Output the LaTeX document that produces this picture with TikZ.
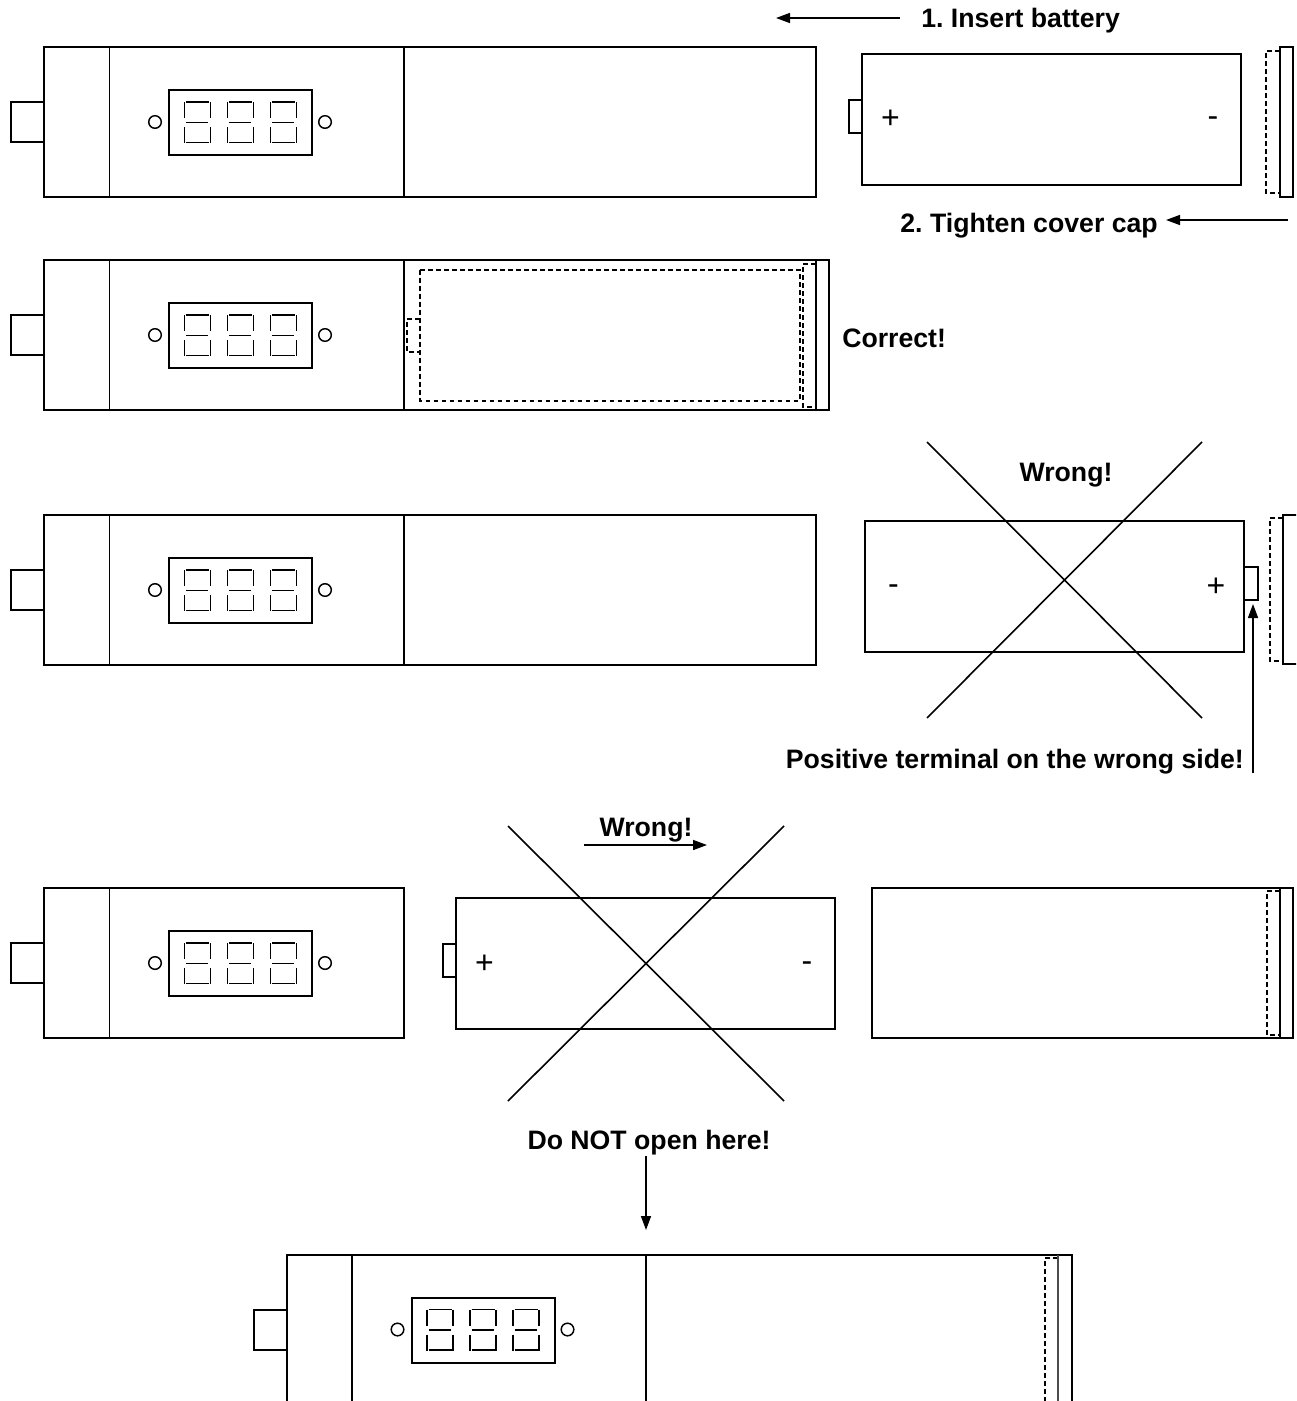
\documentclass[tikz,border=0pt]{standalone}
\usepackage{fontspec}
\setmainfont{Liberation Sans}
\usetikzlibrary{arrows.meta}
\frenchspacing

\tikzset{
  outline/.style={draw, line width=1.5pt},
  thinline/.style={draw, line width=1.1pt},
  hidden/.style={draw, line width=1.5pt, dash pattern=on 3.6pt off 2.4pt},
  pointer/.style={-{Stealth[length=10.5pt,width=7.5pt,inset=0pt]}, line width=1.1pt},
  caption/.style={font=\fontsize{20}{24}\selectfont\bfseries, inner sep=0pt},
  polarity/.style={font=\fontsize{24}{28}\selectfont, inner sep=0pt, anchor=base},
}

% plug, first divider, display and the two dots; origin is the top left of the body
\newcommand{\meterface}[2]{
  \begin{scope}[shift={(#1,#2)}]
    \draw[outline] (0,55) -- (-33,55) -- (-33,95) -- (0,95);
    \draw[line width=1.3pt] (65.5,0) -- (65.5,150);
    \draw[outline] (125,43) rectangle (268,108);
    \draw[line width=1.1pt] (111,75) circle (6.3);
    \draw[line width=1.1pt] (281,75) circle (6.3);
    \foreach \dx in {140,183,226} {
      \begin{scope}[shift={(\dx,55)}]
        \draw[thinline] (0.5,0) -- (0.5,16) (0.5,25) -- (0.5,41);
        \draw[thinline] (26.5,0) -- (26.5,16) (26.5,25) -- (26.5,41);
        \draw[thinline] (2,0) -- (25,0) (2,20.5) -- (24,20.5) (2,40.5) -- (25,40.5);
      \end{scope}
    }
  \end{scope}
}

% battery body with its tip; #3 is the side of the tip, #4 and #5 the signs
\newcommand{\battery}[5]{
  \begin{scope}[shift={(#1,#2)}]
    \draw[outline] (0,0) rectangle (379,131);
    \draw[outline] (#3,46) -- ++(\tipdir,0) -- ++(0,33) -- (#3,79);
    \node[polarity] at (28.5,75) {#4};
    \node[polarity] at (351,75) {#5};
  \end{scope}
}
\newcommand{\minussign}{\raisebox{1.5pt}{-}}

\begin{document}
\begin{tikzpicture}[x=0.75pt, y=-0.75pt]
  \useasboundingbox (0,0) rectangle (1296,1401);
  \clip (0,0) rectangle (1296,1401);

  % battery going in
  \meterface{44}{47}
  \draw[outline] (44,47) rectangle (816,197);
  \draw[line width=1.3pt] (404,47) -- (404,197);
  \def\tipdir{-13.5}
  \battery{862}{54}{0}{+}{\minussign}
  \draw[outline] (1280,47) rectangle (1293,197);
  \draw[hidden] (1280,51) -- (1266,51) -- (1266,193) -- (1280,193);

  \node[caption, anchor=west] (insert) at (921,21) {1. Insert battery};
  \coordinate (insertfrom) at (900,18);
  \coordinate (insertto) at (776,18);
  \draw[pointer] (insertfrom) -- (insertto);

  \node[caption, anchor=east] (tighten) at (1158,226) {2. Tighten cover cap};
  \coordinate (tightenfrom) at (1288,220);
  \coordinate (tightento) at (1166,220);
  \draw[pointer] (tightenfrom) -- (tightento);

  % battery in place
  \meterface{44}{260}
  \draw[outline] (44,260) rectangle (829,410);
  \draw[line width=1.3pt] (404,260) -- (404,410);
  \draw[hidden] (420,270) rectangle (800,400.5);
  \draw[hidden] (420,319) -- (407,319) -- (407,352) -- (420,352);
  \draw[hidden] (816,264) -- (803,264) -- (803,407) -- (816,407);
  \draw[line width=1.3pt] (816,260) -- (816,410);
  \node[caption, anchor=west] (correct) at (842,338) {Correct!};

  % battery the wrong way round
  \meterface{44}{515}
  \draw[outline] (44,515) rectangle (816,665);
  \draw[line width=1.3pt] (404,515) -- (404,665);
  \def\tipdir{13.5}
  \battery{865}{521}{379}{\minussign}{+}
  \draw[outline] (1300,515) -- (1283,515) -- (1283,664) -- (1300,664);
  \draw[hidden] (1283,518) -- (1270,518) -- (1270,661) -- (1283,661);
  \draw[line width=1.2pt] (927,442) -- (1202,718) (1202,442) -- (927,718);
  \node[caption] (wrongfirst) at (1066,475) {Wrong!};

  \node[caption, anchor=east] (terminal) at (1244,762) {Positive terminal on the wrong side!};
  \coordinate (terminalfrom) at (1253,773);
  \coordinate (terminalto) at (1253,604);
  \draw[pointer] (terminalfrom) -- (terminalto);

  % battery from the cap side
  \meterface{44}{888}
  \draw[outline] (44,888) rectangle (404,1038);
  \def\tipdir{-13.5}
  \battery{456}{898}{0}{+}{\minussign}
  \draw[outline] (872,888) rectangle (1293,1038);
  \draw[outline] (1280,888) -- (1280,1038);
  \draw[hidden] (1280,891) -- (1267,891) -- (1267,1035) -- (1280,1035);
  \draw[line width=1.2pt] (508,826) -- (784,1101) (784,826) -- (508,1101);
  \node[caption] (wrongsecond) at (646,830) {Wrong!};
  \coordinate (wrongfrom) at (584,845);
  \coordinate (wrongto) at (707,845);
  \draw[pointer] (wrongfrom) -- (wrongto);

  % closed unit, cut off at the bottom
  \node[caption] (noopen) at (649,1143) {Do NOT open here!};
  \coordinate (noopenfrom) at (646,1156);
  \coordinate (noopento) at (646,1230);
  \draw[pointer] (noopenfrom) -- (noopento);
  \meterface{286.5}{1254.5}
  \draw[outline] (287,1420) -- (287,1255) -- (1072,1255) -- (1072,1420);
  \draw[line width=1.3pt] (646,1255) -- (646,1420);
  \draw[hidden] (1058,1258) -- (1045,1258) -- (1045,1420);
  \draw[hidden] (1058,1258) -- (1058,1420);
  \draw[line width=1.1pt, black!70] (1058,1255) -- (1058,1420);
\end{tikzpicture}
\end{document}
